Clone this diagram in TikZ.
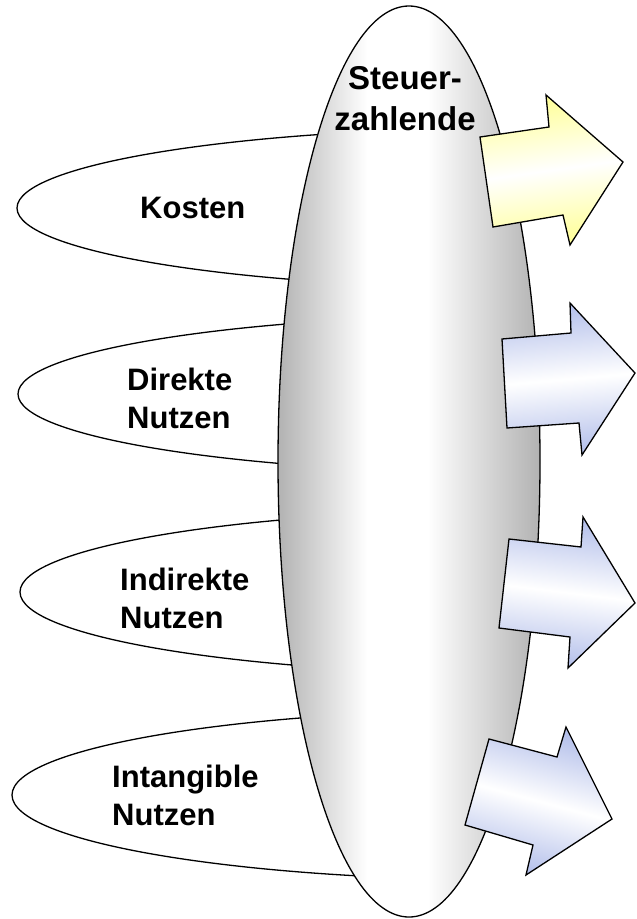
\documentclass[tikz,border=0pt]{standalone}
\usepackage{fontspec}
\setmainfont{Liberation Sans}
\definecolor{arrowyellow}{RGB}{255,255,150}
\definecolor{arrowblue}{RGB}{178,190,234}
\definecolor{ovalgray}{RGB}{178,178,178}
% gray rim, broad white band a little left of the middle
% (TikZ maps 25bp..75bp of an axis shading onto the path's width)
\pgfdeclarehorizontalshading{ovalshade}{100bp}{color(0bp)=(ovalgray); color(25bp)=(ovalgray); color(42bp)=(white); color(53.5bp)=(white); color(75bp)=(ovalgray); color(100bp)=(ovalgray)}
\begin{document}
\begin{tikzpicture}[x=1pt,y=-1pt,line join=miter,
  outline/.style={draw=black,line width=1.3pt},
  lbl/.style={font=\fontsize{31}{38}\selectfont\bfseries,align=left,inner sep=0pt,anchor=north west},
  toplbl/.style={font=\fontsize{33}{41}\selectfont\bfseries,align=center,inner sep=0pt,anchor=north},
  yarrow/.style={outline,top color=arrowyellow,bottom color=arrowyellow,middle color=white},
  barrow/.style={outline,top color=arrowblue,bottom color=arrowblue,middle color=white}]
\useasboundingbox (0,0) rectangle (637,919);

% the four long category ovals; only their left ends show beside the central oval
\begin{scope}
  \clip (0,0) rectangle (440,919);
  \draw[outline,fill=white] (517,208) ellipse [x radius=500,y radius=80];
  \draw[outline,fill=white] (518,394) ellipse [x radius=500,y radius=79];
  \draw[outline,fill=white] (520,592) ellipse [x radius=500,y radius=82];
  \draw[outline,fill=white] (512,795) ellipse [x radius=500,y radius=85];
\end{scope}

% central oval
\draw[outline,shading=ovalshade]
  (409,461.5) ellipse [x radius=131,y radius=455.5];

% labels
\node[lbl] (kosten) at (140,197) {Kosten};
\node[lbl] (direkt) at (127,368) {Direkte\\Nutzen};
\node[lbl] (indirekt) at (120,568) {Indirekte\\Nutzen};
\node[lbl] (intang) at (112,765) {Intangible\\Nutzen};
\node[toplbl] (steuer) at (405,66) {Steuer-\\zahlende};

% block arrows leaving the central oval
\draw[yarrow,shading angle=8]
  (480,137) -- (549,127) -- (546,95) -- (623,162) -- (570,245) -- (563,215) -- (493,227) -- cycle;
\draw[barrow,shading angle=5]
  (502,339) -- (571,333) -- (570,303) -- (635,373) -- (582,455) -- (579,423) -- (507,428) -- cycle;
\draw[barrow,shading angle=-7]
  (509,539) -- (581,547) -- (583,517) -- (635,603) -- (568,668) -- (570,637) -- (499,628) -- cycle;
\draw[barrow,shading angle=-15]
  (489,739) -- (557,757) -- (566,727) -- (612,819) -- (526,875) -- (533,845) -- (465,825) -- cycle;
\end{tikzpicture}
\end{document}
